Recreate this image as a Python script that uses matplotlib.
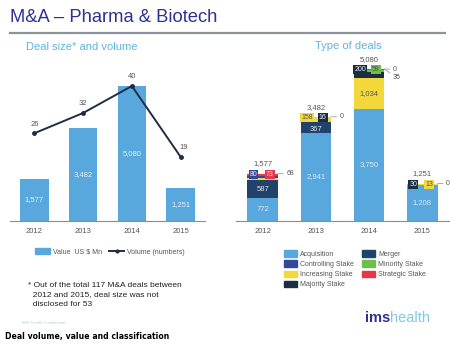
"""M&A - Pharma & Biotech: deal size/volume and type of deals."""

import matplotlib
matplotlib.use("Agg")
import matplotlib.pyplot as plt
from matplotlib.patches import Patch
from matplotlib.lines import Line2D
import numpy as np

plt.rcParams["font.family"] = ["Liberation Sans", "DejaVu Sans"]

# --- data ---
years = ["2012", "2013", "2014", "2015"]
deal_value = [1577, 3482, 5080, 1251]          # US $ Mn
deal_volume = [26, 32, 40, 19]                 # number of deals

# type of deals (stack order bottom -> top)
acquisition = [772, 2941, 3750, 1208]
merger = [587, 367, 0, 0]
increasing = [68, 158, 1034, 13]
majority = [0, 16, 200, 30]
controlling = [80, 0, 0, 0]
minority = [0, 0, 58, 0]
strategic = [73, 0, 35, 0]
type_totals = [1577, 3482, 5080, 1251]

series = {
    "Acquisition": acquisition,
    "Merger": merger,
    "Increasing Stake": increasing,
    "Majority Stake": majority,
    "Controlling Stake": controlling,
    "Minority Stake": minority,
    "Strategic Stake": strategic,
}
colors = {
    "Acquisition": "#58a8de",
    "Merger": "#21426a",
    "Increasing Stake": "#f3d83c",
    "Majority Stake": "#1a2e42",
    "Controlling Stake": "#34489a",
    "Minority Stake": "#6cbf47",
    "Strategic Stake": "#e7354b",
}
# how the small segments are labelled in each year
boxed = [["Controlling Stake", "Strategic Stake"],
         ["Increasing Stake", "Majority Stake"],
         ["Majority Stake", "Minority Stake"],
         ["Majority Stake", "Increasing Stake"]]
outside = [["Increasing Stake"],
           ["Strategic Stake"],
           ["Controlling Stake", "Strategic Stake"],
           ["Strategic Stake"]]
legend_order = ["Acquisition", "Controlling Stake", "Increasing Stake",
                "Majority Stake", "Merger", "Minority Stake", "Strategic Stake"]

W, H = 450, 357
BLUE = "#58a8de"
NAVY = "#2e3192"
GREY = "#555555"


def rect(x0, y0, x1, y1):
    """pixel box (top-left origin) -> figure fraction rect"""
    return [x0 / W, 1 - y1 / H, (x1 - x0) / W, (y1 - y0) / H]


def fmt(v):
    return f"{v:,}"


def clean(ax):
    for s in ("top", "right", "left"):
        ax.spines[s].set_visible(False)
    ax.spines["bottom"].set_color("#8c8c8c")
    ax.spines["bottom"].set_linewidth(0.8)
    ax.set_yticks([])
    ax.tick_params(axis="x", length=0, labelsize=5.5, labelcolor=GREY, pad=5)


fig = plt.figure(figsize=(W / 100, H / 100), dpi=100, facecolor="white")

# header
fig.text(10 / W, 1 - 17 / H, "M&A \u2013 Pharma & Biotech", fontsize=13.2,
         color=NAVY, va="center", ha="left")
fig.add_artist(Line2D([10 / W, 445 / W], [1 - 33 / H, 1 - 33 / H],
                      color="#8a9399", lw=1.6))
fig.text(26 / W, 1 - 47 / H, "Deal size* and volume", fontsize=8,
         color="#5db4e2", va="center", ha="left")
fig.text(348 / W, 1 - 46 / H, "Type of deals", fontsize=8,
         color="#5db4e2", va="center", ha="center")

# --- left: deal size and volume ---
ax = fig.add_axes(rect(10, 60, 205, 221))
x = np.arange(len(years))
ax.bar(x, deal_value, width=0.58, color=BLUE)
for xi, v in zip(x, deal_value):
    ax.text(xi, v / 2, fmt(v), ha="center", va="center", fontsize=5.5,
            color="#e6f2fb")
ax.set_xlim(-0.5, 3.5)
ax.set_ylim(0, 5080 * 161 / 135)
ax.set_xticks(x, years)
clean(ax)

ax2 = ax.twinx()
ax2.plot(x, deal_volume, color="#1f2d44", lw=1.4, marker="o", markersize=2.5)
for xi, v in zip(x, deal_volume):
    dx = 2 if xi == 3 else 0
    ax2.annotate(str(v), (xi, v), xytext=(dx, 4), textcoords="offset points",
                 ha="center", va="bottom", fontsize=5.5, color=GREY)
ax2.set_ylim(0, 40 * 161 / 135)
ax2.set_axis_off()

fig.legend(handles=[Patch(color=BLUE, label="Value  US $ Mn"),
                    Line2D([], [], color="#1f2d44", lw=1.4, marker="o",
                           markersize=2, label="Volume (numbers)")],
           loc="center", bbox_to_anchor=(110 / W, 1 - 252 / H), ncol=2,
           frameon=False, fontsize=5, labelcolor=GREY, handlelength=2.2,
           handleheight=1.0, columnspacing=1.0, handletextpad=0.4)

# --- right: type of deals ---
bx = fig.add_axes(rect(236, 55, 449, 221))
w = 0.57
bottom = np.zeros(len(years))
for name, vals in series.items():
    vals = np.array(vals, dtype=float)
    bx.bar(x, vals, width=w, bottom=bottom, color=colors[name])
    for i, v in enumerate(vals):
        if v >= 300:
            tc = GREY if name == "Increasing Stake" else "#dfe9f2"
            dy = -1.5 if v < 500 else 0
            bx.annotate(fmt(int(v)), (i, bottom[i] + v / 2), xytext=(0, dy),
                        textcoords="offset points", ha="center",
                        va="center", fontsize=5.5, color=tc)
    bottom += vals

for i in x:
    top = bottom[i]
    bx.annotate(fmt(type_totals[i]), (i, top), xytext=(0, 4.5),
                textcoords="offset points", ha="center", va="bottom",
                fontsize=5.5, color=GREY)
    # small segments as coloured label boxes across the bar top
    for k, name in enumerate(boxed[i]):
        v = series[name][i]
        dx = -0.17 + 0.3 * k
        tc = GREY if name in ("Increasing Stake", "Minority Stake") else "#e8eef5"
        bx.annotate(str(v), (i + dx, top), xytext=(0, -0.5),
                    textcoords="offset points", ha="center", va="center",
                    fontsize=5, color=tc,
                    bbox=dict(boxstyle="square,pad=0.15",
                              fc=colors[name], ec="none"))
    # leftovers outside to the right with a short leader
    for k, name in enumerate(outside[i]):
        v = series[name][i]
        yo = 0 - 6 * k
        bx.annotate(str(v), (i + w / 2, top), xytext=(6, yo),
                    textcoords="offset points", ha="left", va="center",
                    fontsize=5, color=GREY,
                    arrowprops=dict(arrowstyle="-", color="#888888", lw=0.5,
                                    shrinkA=0, shrinkB=0))

bx.set_xlim(-0.5, 3.5)
bx.set_ylim(0, 5080 * 166 / 152)
bx.set_xticks(x, years)
clean(bx)

handles = [Patch(color=colors[n], label=n) for n in legend_order]
fig.legend(handles=handles, loc="upper left",
           bbox_to_anchor=(278 / W, 1 - 244 / H), ncol=2, frameon=False,
           fontsize=5, labelcolor=GREY, handlelength=1.8, handleheight=1.1,
           columnspacing=1.2, handletextpad=0.5, labelspacing=0.35)

# footnote, footer
fig.text(28 / W, 1 - 295 / H,
         "* Out of the total 117 M&A deals between\n"
         "  2012 and 2015, deal size was not\n"
         "  disclosed for 53",
         fontsize=6.0, color="#222222", va="center", ha="left",
         linespacing=1.45)
fig.text(22 / W, 1 - 323 / H, "IMS Health Confidential", fontsize=3,
         color="#b9d2e2", va="center", ha="left")
fig.text(365 / W, 1 - 318 / H, "ims", fontsize=10.5, fontweight="bold",
         color=NAVY, va="center", ha="left")
fig.text(390 / W, 1 - 318 / H, "health", fontsize=10.5,
         color="#7ccbe4", va="center", ha="left")
fig.text(5 / W, 1 - 337 / H, "Deal volume, value and classification",
         fontsize=5.6, fontweight="bold", color="black", va="center",
         ha="left", family=["DejaVu Sans"])

fig.savefig("out.png", dpi=100, facecolor="white")
